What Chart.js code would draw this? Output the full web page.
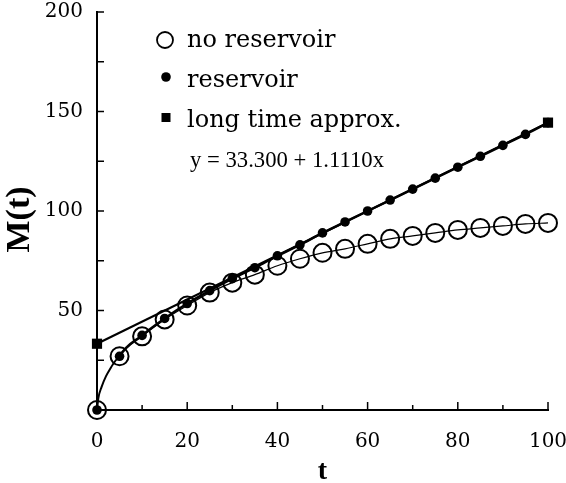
<!DOCTYPE html>
<html>
<head>
<meta charset="utf-8">
<script src="https://cdn.jsdelivr.net/npm/chart.js@4.4.1/dist/chart.umd.min.js"></script>
<style>
  html, body { margin: 0; padding: 0; background: #fff; }
  #wrap { width: 566px; height: 483px; position: relative; }
</style>
</head>
<body>
<div id="wrap"><canvas id="c" width="566" height="483"></canvas></div>
<script>
// ---- data ----
const times = [0, 5, 10, 15, 20, 25, 30, 35, 40, 45, 50, 55, 60, 65, 70, 75, 80, 85, 90, 95, 100];
const noReservoir = [0, 27, 37, 45.5, 52.5, 59, 64, 68, 72.5, 76, 79, 81, 83.5, 86, 87.5, 89, 90.5, 91.5, 92.5, 93.5, 94];
const reservoir = [0, 27, 37.5, 46, 53.5, 60, 66, 71.5, 77.5, 83, 89, 94.5, 100, 105.5, 111, 116.5, 122, 127.5, 133, 138.5, 144.4];
// early part of the drawn curve (between t = 0 and t = 5)
const earlyT = [0, 0.3, 1, 2, 3, 4, 5];
const earlyM = [0, 6, 11.5, 17, 21, 24.5, 27];
const approxT = [0, 100];
const approxY = [33.3, 144.41];
const xTickLabels = ['0', '20', '40', '60', '80', '100'];
const yTickLabels = ['50', '100', '150', '200'];
const legendLabels = ['no reservoir', 'reservoir', 'long time approx.'];
const equationText = 'y = 33.300 + 1.1110x';

const pts = (xs, ys) => xs.map((x, i) => ({ x: x, y: ys[i] }));
const SERIF = '"Liberation Serif", "Times New Roman", serif';
const WIDE_SERIF = '"DejaVu Serif", serif';
const hideFirstSegment = { borderColor: c => (c.p0DataIndex === 0 ? 'rgba(0,0,0,0)' : undefined) };

// inward ticks drawn from the library's scales
const innerTicks = {
  id: 'innerTicks',
  afterDatasetsDraw(chart) {
    const ctx = chart.ctx;
    const xs = chart.scales.x, ys = chart.scales.y;
    ctx.save();
    ctx.strokeStyle = '#000';
    ctx.lineWidth = 1.5;
    xs.ticks.forEach(t => {
      const px = xs.getPixelForValue(t.value);
      const len = (t.value % 20 === 0) ? 8 : 5;
      ctx.beginPath(); ctx.moveTo(px, ys.bottom); ctx.lineTo(px, ys.bottom - len); ctx.stroke();
    });
    ys.ticks.forEach(t => {
      const py = ys.getPixelForValue(t.value);
      ctx.beginPath(); ctx.moveTo(xs.left, py); ctx.lineTo(xs.left + 7, py); ctx.stroke();
    });
    ctx.restore();
  }
};

// legend inside the plot area
const innerLegend = {
  id: 'innerLegend',
  afterDraw(chart) {
    const ctx = chart.ctx;
    ctx.save();
    ctx.fillStyle = '#000';
    ctx.strokeStyle = '#000';
    ctx.lineWidth = 1.8;
    ctx.beginPath(); ctx.arc(165, 40, 8, 0, Math.PI * 2); ctx.stroke();
    ctx.beginPath(); ctx.arc(166, 77, 4.8, 0, Math.PI * 2); ctx.fill();
    ctx.fillRect(161.5, 113, 9, 9);
    ctx.font = '24px ' + WIDE_SERIF;
    ctx.textBaseline = 'alphabetic';
    ctx.textAlign = 'left';
    const baselines = [47, 87, 127];
    legendLabels.forEach((l, i) => ctx.fillText(l, 187, baselines[i]));
    ctx.font = '22.7px ' + SERIF;
    ctx.fillText(equationText, 190, 167);
    ctx.restore();
  }
};

new Chart(document.getElementById('c'), {
  type: 'line',
  data: {
    datasets: [
      {
        label: 'early curve',
        data: pts(earlyT, earlyM),
        borderColor: '#000',
        borderWidth: 2,
        pointRadius: 0,
        cubicInterpolationMode: 'monotone',
        clip: false
      },
      {
        label: legendLabels[2],
        data: pts(approxT, approxY),
        borderColor: '#000',
        borderWidth: 2.2,
        pointStyle: 'rect',
        pointRadius: 7.2,
        pointBackgroundColor: '#000',
        pointBorderColor: '#000',
        pointBorderWidth: 0,
        tension: 0,
        clip: false
      },
      {
        label: legendLabels[1],
        data: pts(times, reservoir),
        borderColor: '#000',
        borderWidth: 2.5,
        pointStyle: 'circle',
        pointRadius: 4.8,
        pointBackgroundColor: '#000',
        pointBorderColor: '#000',
        pointBorderWidth: 0,
        cubicInterpolationMode: 'monotone',
        segment: hideFirstSegment,
        clip: false
      },
      {
        label: legendLabels[0],
        data: pts(times, noReservoir),
        borderColor: '#000',
        borderWidth: 1.2,
        pointStyle: 'circle',
        pointRadius: 9,
        pointBackgroundColor: 'rgba(0,0,0,0)',
        pointBorderColor: '#000',
        pointBorderWidth: 2,
        cubicInterpolationMode: 'monotone',
        segment: hideFirstSegment,
        clip: false
      }
    ]
  },
  options: {
    responsive: false,
    animation: false,
    layout: { padding: { top: 0, right: 0, left: 0, bottom: 0 } },
    plugins: { legend: { display: false }, tooltip: { enabled: false } },
    scales: {
      x: {
        type: 'linear',
        min: 0, max: 100,
        grid: { display: true, drawOnChartArea: false, drawTicks: false },
        border: { display: true, color: '#000', width: 2 },
        ticks: {
          stepSize: 10,
          padding: 20,
          color: '#000',
          font: { family: WIDE_SERIF, size: 20 },
          maxRotation: 0,
          autoSkip: false,
          callback: v => (v % 20 === 0 ? xTickLabels[v / 20] : '')
        },
        title: {
          display: true, text: 't', color: '#000',
          font: { family: SERIF, size: 28, weight: 'bold' },
          padding: { top: 0, bottom: -6 }
        },
        afterFit: s => { s.height = 73; s.paddingLeft = 0; s.paddingRight = 18; }
      },
      y: {
        type: 'linear',
        min: 0, max: 200,
        grid: { display: true, drawOnChartArea: false, drawTicks: false },
        border: { display: true, color: '#000', width: 2 },
        ticks: {
          stepSize: 25,
          padding: 14,
          color: '#000',
          font: { family: WIDE_SERIF, size: 20 },
          autoSkip: false,
          callback: v => (v > 0 && v % 50 === 0 ? yTickLabels[v / 50 - 1] : '')
        },
        title: {
          display: true, text: 'M(t)\u00a0\u00a0', color: '#000',
          font: { family: SERIF, size: 34, weight: 'bold' },
          padding: { top: 0, bottom: 0 }
        },
        afterFit: s => { s.width = 97; s.paddingTop = 12; s.paddingBottom = 0; }
      }
    }
  },
  plugins: [innerTicks, innerLegend]
});
</script>
</body>
</html>
